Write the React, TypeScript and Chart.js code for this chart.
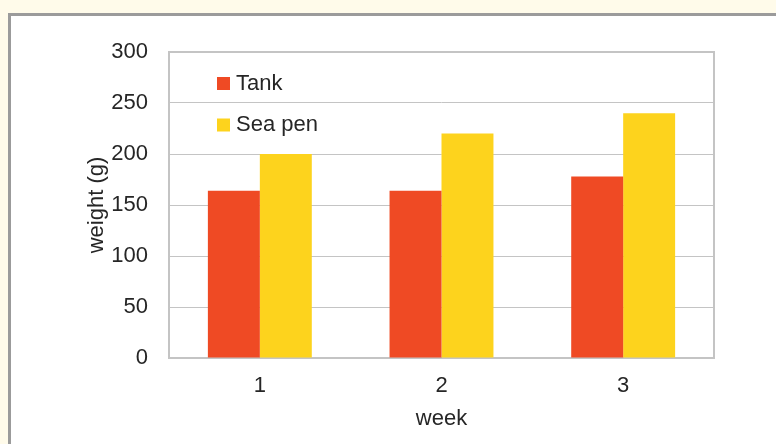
import React, { useEffect, useRef } from "react";
import { Chart, registerables } from "chart.js";

Chart.register(...registerables);

const weeks = ["1", "2", "3"];
const tankWeights = [164, 164, 178];
const seaPenWeights = [200, 220, 240];
const yTicks = [0, 50, 100, 150, 200, 250, 300];

const FONT = "'Liberation Sans', Arial, sans-serif";
const TEXT = "#262626";
const GRID = "#c4c4c4";

// Box around the plotting area, drawn under the bars.
const plotFrame = {
  id: "plotFrame",
  beforeDatasetsDraw(chart: any) {
    const { ctx, chartArea: a } = chart;
    ctx.save();
    ctx.strokeStyle = GRID;
    ctx.lineWidth = 2;
    ctx.strokeRect(a.left, a.top, a.right - a.left, a.bottom - a.top);
    ctx.restore();
  },
};

// Legend drawn inside the upper-left corner of the plot.
const insetLegend = {
  id: "insetLegend",
  afterDraw(chart: any) {
    const { ctx, chartArea: a } = chart;
    ctx.save();
    ctx.font = `22px ${FONT}`;
    ctx.textBaseline = "middle";
    ctx.textAlign = "left";
    chart.data.datasets.forEach((ds: any, i: number) => {
      const cy = a.top + 31.5 + i * 41.5;
      ctx.fillStyle = ds.backgroundColor;
      ctx.fillRect(a.left + 48, cy - 6.5, 13, 13);
      ctx.fillStyle = TEXT;
      ctx.fillText(ds.label, a.left + 67, cy);
    });
    ctx.restore();
  },
};

export default function App() {
  const canvasRef = useRef<HTMLCanvasElement>(null);

  useEffect(() => {
    const canvas = canvasRef.current;
    if (!canvas) return;
    const chart = new Chart(canvas, {
      type: "bar",
      data: {
        labels: weeks,
        datasets: [
          {
            label: "Tank",
            data: tankWeights,
            backgroundColor: "#ef4a24",
            categoryPercentage: 0.572,
            barPercentage: 1,
          },
          {
            label: "Sea pen",
            data: seaPenWeights,
            backgroundColor: "#fdd31d",
            categoryPercentage: 0.572,
            barPercentage: 1,
          },
        ],
      },
      options: {
        responsive: false,
        animation: false,
        devicePixelRatio: 1,
        layout: { padding: { top: 52, right: 62, bottom: 0, left: 0 } },
        plugins: {
          legend: { display: false },
          tooltip: { enabled: false },
        },
        scales: {
          x: {
            afterFit(scale: any) {
              scale.height = 86;
            },
            grid: { display: false, drawTicks: false },
            border: { display: false },
            ticks: {
              padding: 15,
              color: TEXT,
              font: { family: FONT, size: 22 },
            },
            title: {
              display: true,
              text: "week",
              color: TEXT,
              font: { family: FONT, size: 22 },
              padding: { top: 0, bottom: 12 },
            },
          },
          y: {
            min: 0,
            max: 300,
            afterFit(scale: any) {
              scale.width = 169;
            },
            afterBuildTicks(scale: any) {
              scale.ticks = yTicks.map((v) => ({ value: v }));
            },
            grid: { color: GRID, lineWidth: 1, drawTicks: false },
            border: { display: false },
            ticks: {
              padding: 21,
              color: TEXT,
              font: { family: FONT, size: 22 },
            },
            title: {
              display: true,
              text: "weight (g)",
              color: TEXT,
              font: { family: FONT, size: 22 },
              padding: { top: 84, bottom: 0 },
            },
          },
        },
      },
      plugins: [plotFrame, insetLegend],
    });
    return () => chart.destroy();
  }, []);

  return (
    <div
      style={{
        position: "fixed",
        left: 0,
        top: 0,
        width: 776,
        height: 444,
        overflow: "hidden",
        background: "#fffbea",
      }}
    >
      <div
        style={{
          position: "absolute",
          left: 8,
          top: 13,
          width: 800,
          height: 460,
          background: "#ffffff",
          border: "3px solid #9b9b9b",
          boxSizing: "border-box",
        }}
      />
      <canvas
        ref={canvasRef}
        width={776}
        height={444}
        style={{ position: "absolute", left: 0, top: 0, width: 776, height: 444 }}
      />
    </div>
  );
}
